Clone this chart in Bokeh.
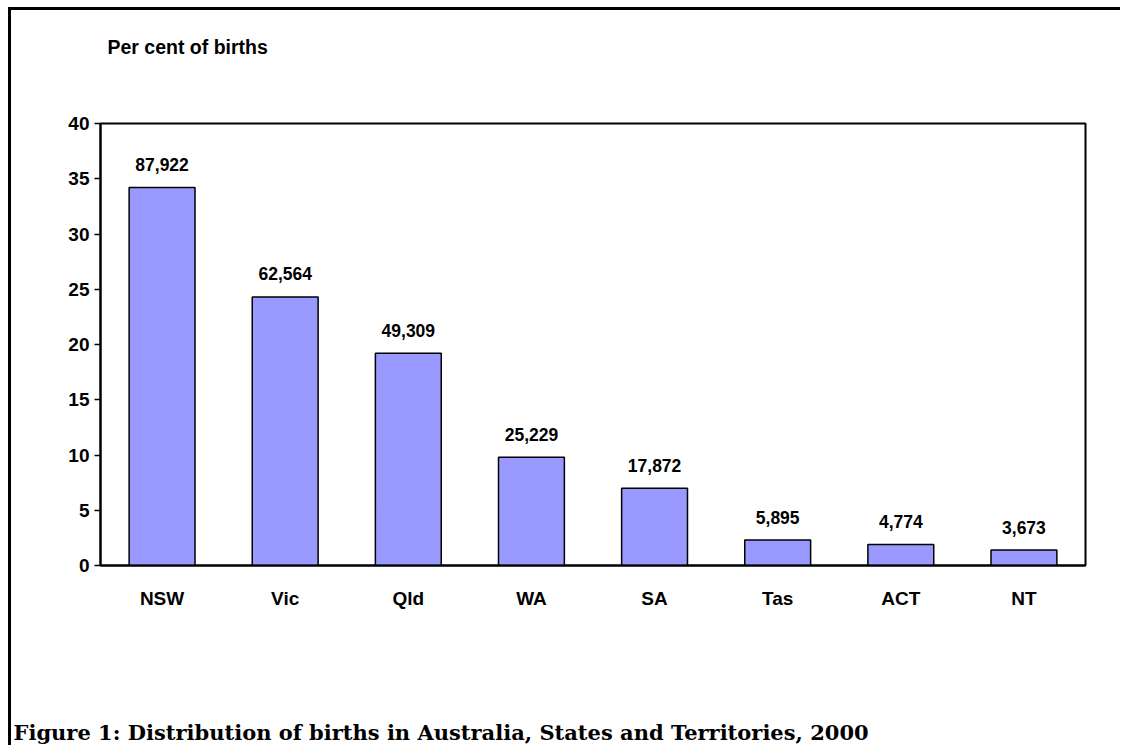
from bokeh.plotting import figure
from bokeh.models import ColumnDataSource, FixedTicker, Title, Range1d
from bokeh.core.properties import value
from bokeh.embed import file_html
from bokeh.resources import INLINE

states = ["NSW", "Vic", "Qld", "WA", "SA", "Tas", "ACT", "NT"]
percent = [34.2, 24.3, 19.2, 9.8, 7.0, 2.3, 1.9, 1.4]
births = ["87,922", "62,564", "49,309", "25,229", "17,872", "5,895", "4,774", "3,673"]
y_ticks = [0, 5, 10, 15, 20, 25, 30, 35, 40]

src = ColumnDataSource(dict(state=states, pct=percent, lbl=births))

font = "Liberation Sans"

p = figure(x_range=states, y_range=Range1d(0, 40), width=1112, height=738,
           output_backend="svg", toolbar_location=None, title=None,
           min_border_left=89, min_border_top=113, min_border_right=38, min_border_bottom=183)
p.styles = {"margin-left": "8px", "margin-top": "7px",
            "border-left": "3px solid black", "border-top": "3px solid black"}
p.background_fill_color = "white"
p.border_fill_color = "white"
p.outline_line_color = "black"
p.outline_line_width = 2
p.xgrid.grid_line_color = None
p.ygrid.grid_line_color = None

p.vbar(x="state", top="pct", width=0.535, source=src, fill_color="#9999FF",
       line_color="black", line_width=1.5)

p.text(x="state", y="pct", text="lbl", source=src, text_align="center",
       text_baseline="alphabetic", y_offset=-23, text_font=value("Liberation Sans"),
       text_font_style="bold", text_font_size="17.5px", text_color="black")

p.yaxis.ticker = FixedTicker(ticks=y_ticks)
p.yaxis.minor_tick_line_color = None
p.yaxis.major_tick_out = 6
p.yaxis.major_tick_in = 0
p.yaxis.major_tick_line_width = 1.5
p.yaxis.axis_line_width = 2
p.yaxis.major_label_standoff = 5
p.yaxis.major_label_text_font = font
p.yaxis.major_label_text_font_style = "bold"
p.yaxis.major_label_text_font_size = "19px"
p.yaxis.major_label_text_color = "black"

p.xaxis.major_tick_line_color = None
p.xaxis.major_tick_out = 0
p.xaxis.major_tick_in = 0
p.xaxis.axis_line_width = 2
p.xaxis.major_label_standoff = 22
p.xaxis.major_label_text_font = font
p.xaxis.major_label_text_font_style = "bold"
p.xaxis.major_label_text_font_size = "19px"
p.xaxis.major_label_text_color = "black"

# spacer (nearest the frame) then the y-axis heading above it
p.add_layout(Title(text=" ", text_font_size="1px", standoff=63), "above")
p.add_layout(Title(text="Per cent of births", align="left", offset=7, standoff=0,
                   vertical_align="bottom", text_font=font, text_font_style="bold",
                   text_font_size="19.5px", text_color="black"), "above")

# spacer below the x axis, then the figure caption
p.add_layout(Title(text=" ", text_font_size="1px", standoff=103), "below")
p.add_layout(Title(text="Figure 1: Distribution of births in Australia, States and Territories, 2000",
                   align="left", offset=-87, standoff=0, vertical_align="bottom",
                   text_font="DejaVu Serif", text_font_style="bold",
                   text_font_size="21px", text_color="black"), "below")

open("out.html", "w").write(file_html(p, INLINE))
